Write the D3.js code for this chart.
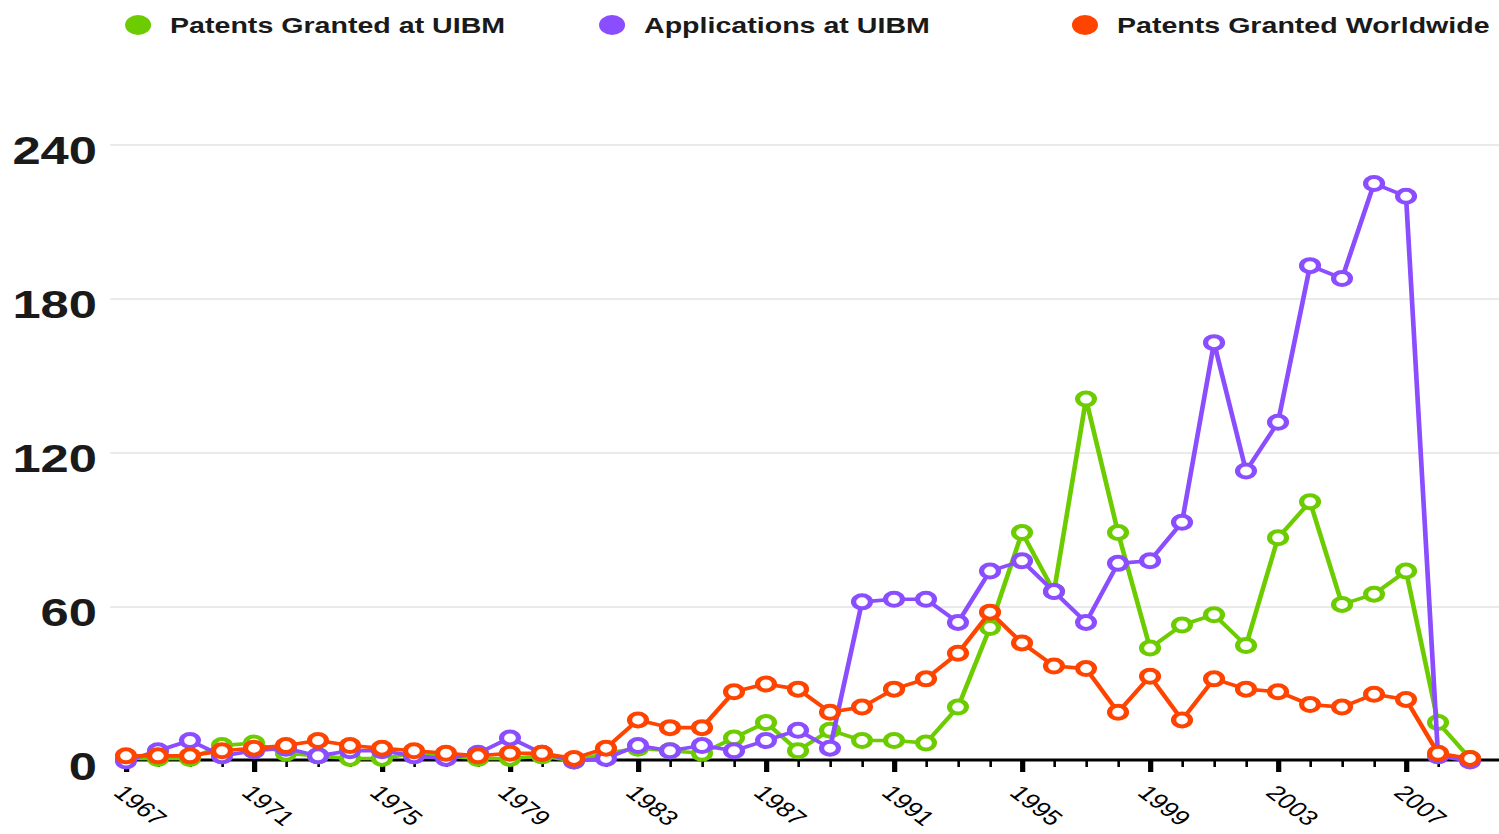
<!DOCTYPE html>
<html>
<head>
  <meta charset="utf-8">
  <title>UIBM patents</title>
  <script src="https://cdn.jsdelivr.net/npm/d3@7"></script>
  <style>
    body { margin: 0; background: #ffffff; }
    svg { display: block; }
    .legend text {
      font-family: "Liberation Sans", Arial, sans-serif;
      font-weight: bold;
      font-size: 22px;
      fill: #1a1a1a;
    }
    .yaxis text {
      font-family: "Liberation Sans", Arial, sans-serif;
      font-weight: bold;
      font-size: 39px;
      fill: #1a1a1a;
    }
    .xaxis text {
      font-family: "Liberation Sans", Arial, sans-serif;
      font-size: 21px;
      fill: #000000;
    }
    .grid line { stroke: #e3e3e3; stroke-width: 1.5; }
  </style>
</head>
<body>
<script>
  // Data
  var years = [1967, 1968, 1969, 1970, 1971, 1972, 1973, 1974, 1975, 1976,
               1977, 1978, 1979, 1980, 1981, 1982, 1983, 1984, 1985, 1986,
               1987, 1988, 1989, 1990, 1991, 1992, 1993, 1994, 1995, 1996,
               1997, 1998, 1999, 2000, 2001, 2002, 2003, 2004, 2005, 2006,
               2007, 2008, 2009];
  var grantedUIBM = [1, 1, 1, 6, 7, 3, 2, 1, 1, 3,
                     2, 1, 1, 2, 0, 3, 5, 4, 3, 9,
                     15, 4, 12, 8, 8, 7, 21, 52, 89, 66,
                     141, 89, 44, 53, 57, 45, 87, 101, 61, 65,
                     74, 15, 1];
  var applicationsUIBM = [0, 4, 8, 2, 4, 5, 2, 4, 4, 2,
                          1, 3, 9, 3, 0, 1, 6, 4, 6, 4,
                          8, 12, 5, 62, 63, 63, 54, 74, 78, 66,
                          54, 77, 78, 93, 163, 113, 132, 193, 188, 225,
                          220, 2, 0];
  var grantedWorld = [2, 2, 2, 4, 5, 6, 8, 6, 5, 4,
                      3, 2, 3, 3, 1, 5, 16, 13, 13, 27,
                      30, 28, 19, 21, 28, 32, 42, 58, 46, 37,
                      36, 19, 33, 16, 32, 28, 27, 22, 21, 26,
                      24, 3, 1];
  var seriesNames = ["Patents Granted at UIBM", "Applications at UIBM", "Patents Granted Worldwide"];
  var seriesColors = ["#6ccc00", "#8a4dff", "#ff4400"];
  var yTicks = [0, 60, 120, 180, 240];
  var xTicks = [1967, 1971, 1975, 1979, 1983, 1987, 1991, 1995, 1999, 2003, 2007];

  var series = [grantedUIBM, applicationsUIBM, grantedWorld];

  // The original is squeezed wider than it was drawn, so draw narrow and stretch
  var width = 1499;
  var height = 834;
  var stretch = 1.3;
  var innerW = width / stretch;

  var svg = d3.select("body").append("svg")
              .attr("width", width)
              .attr("height", height)
              .attr("viewBox", "0 0 " + innerW + " " + height)
              .attr("preserveAspectRatio", "none");

  var x = d3.scaleLinear().domain([1967, 2009]).range([96.9, 1130.8]);
  var y = d3.scaleLinear().domain([0, 240]).range([761, 145]);

  // Gridlines
  svg.append("g")
     .attr("class", "grid")
     .selectAll("line")
     .data(yTicks.slice(1))
     .enter()
     .append("line")
     .attr("x1", 84.6)
     .attr("x2", innerW)
     .attr("y1", function(d) { return y(d); })
     .attr("y2", function(d) { return y(d); });

  // Y axis labels
  var yAxis = svg.append("g")
     .attr("class", "yaxis")
     .attr("transform", "translate(84.6, 0)")
     .call(d3.axisLeft(y).tickValues(yTicks).tickSize(0).tickPadding(10));
  yAxis.select(".domain").remove();
  yAxis.selectAll("text").attr("dy", "0.48em");

  // X axis: minor ticks every year, major ticks with labels every 4 years
  var minor = svg.append("g")
     .attr("transform", "translate(0, 760)")
     .call(d3.axisBottom(x).tickValues(years).tickSize(7).tickFormat(""));
  minor.select(".domain").remove();
  minor.selectAll(".tick line").attr("stroke", "#000").attr("stroke-width", 2);

  var major = svg.append("g")
     .attr("class", "xaxis")
     .attr("transform", "translate(0, 760)")
     .call(d3.axisBottom(x).tickValues(xTicks).tickSize(12).tickFormat(d3.format("d")));
  major.select(".domain").remove();
  major.selectAll(".tick line").attr("stroke", "#000").attr("stroke-width", 4);
  major.selectAll("text")
       .attr("y", 0)
       .attr("dy", 0)
       .attr("text-anchor", "start")
       .attr("transform", "translate(-11, 34) rotate(45)");

  svg.append("line")
     .attr("x1", 88.5)
     .attr("x2", innerW)
     .attr("y1", 760)
     .attr("y2", 760)
     .attr("stroke", "#000")
     .attr("stroke-width", 3);

  // Lines and markers
  var line = d3.line()
               .x(function(d, i) { return x(years[i]); })
               .y(function(d) { return y(d); });

  series.forEach(function(values, s) {
    var g = svg.append("g");
    g.append("path")
     .datum(values)
     .attr("d", line)
     .attr("fill", "none")
     .attr("stroke", seriesColors[s])
     .attr("stroke-width", 3.6)
     .attr("stroke-linejoin", "round");
    g.selectAll("circle")
     .data(values)
     .enter()
     .append("circle")
     .attr("cx", function(d, i) { return x(years[i]); })
     .attr("cy", function(d) { return y(d); })
     .attr("r", 6.5)
     .attr("fill", "#fff")
     .attr("stroke", seriesColors[s])
     .attr("stroke-width", 4);
  });

  // Legend
  var legendX = [106.2, 470.8, 834.6];
  var legend = svg.append("g")
     .attr("class", "legend")
     .selectAll("g")
     .data(seriesNames)
     .enter()
     .append("g")
     .attr("transform", function(d, i) { return "translate(" + legendX[i] + ", 25)"; });
  legend.append("circle")
     .attr("r", 10)
     .attr("fill", function(d, i) { return seriesColors[i]; });
  legend.append("text")
     .attr("x", 24.6)
     .attr("y", 7.5)
     .text(function(d) { return d; });
</script>
</body>
</html>
